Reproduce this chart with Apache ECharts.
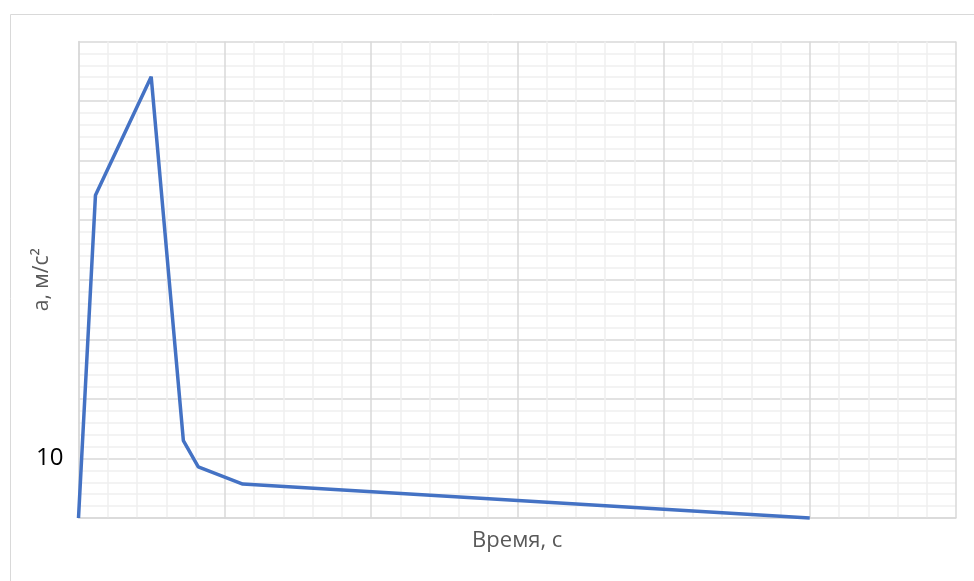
<!DOCTYPE html>
<html>
<head>
<meta charset="utf-8">
<script src="https://cdn.jsdelivr.net/npm/echarts@6/dist/echarts.min.js"></script>
<style>html,body{margin:0;padding:0;background:#fff}#c{width:974px;height:581px}</style>
</head>
<body>
<div id="c"></div>
<script>
const timeValues = [0, 0.116, 0.497, 0.717, 0.819, 1.123, 5.0];
const accelValues = [0, 54.2, 74.1, 13.0, 8.6, 5.7, 0];
const yTickLabels = {10: '10'};
const xTitle = 'Время, с';
const yTitle = 'а, м/с²';

const chart = echarts.init(document.getElementById('c'));
const pts = timeValues.map((t, i) => [t, accelValues[i]]);
const font = 'Open Sans, Liberation Sans, sans-serif';
chart.setOption({
  animation: false,
  graphic: [{
    type: 'rect', left: 8, top: 12, z: -1,
    shape: {width: 1000, height: 620},
    style: {fill: 'none', stroke: '#d9d9d9', lineWidth: 1}
  }],
  grid: {left: 78.5, top: 41.5, right: 18, bottom: 63, containLabel: false, outerBoundsMode: 'none'},
  xAxis: {
    type: 'value', min: 0, max: 6, interval: 1,
    name: xTitle, nameLocation: 'middle', nameGap: 12, nameMoveOverlap: false,
    nameTextStyle: {fontFamily: font, fontSize: 22, color: '#595959'},
    axisLine: {show: true, lineStyle: {color: '#d9d9d9', width: 1.5}},
    axisTick: {show: false},
    axisLabel: {show: false},
    splitLine: {show: true, lineStyle: {color: '#d9d9d9', width: 1.5}},
    minorTick: {show: false, splitNumber: 5},
    minorSplitLine: {show: true, lineStyle: {color: '#f0f0f0', width: 1.5}}
  },
  yAxis: {
    type: 'value', min: 0, max: 80, interval: 10,
    name: yTitle, nameLocation: 'middle', nameGap: 26, nameRotate: 90, nameMoveOverlap: false,
    nameTextStyle: {fontFamily: font, fontSize: 21, color: '#595959'},
    axisLine: {show: true, lineStyle: {color: '#d9d9d9', width: 1.5}},
    axisTick: {show: false},
    axisLabel: {
      show: true, margin: 15, fontFamily: font, fontSize: 24, color: '#000',
      formatter: v => yTickLabels[v] || ''
    },
    splitLine: {show: true, lineStyle: {color: '#d9d9d9', width: 1.5}},
    minorTick: {show: false, splitNumber: 5},
    minorSplitLine: {show: true, lineStyle: {color: '#f0f0f0', width: 1.5}}
  },
  series: [{
    type: 'line', data: pts, showSymbol: false, symbol: 'none',
    lineStyle: {color: '#4472c4', width: 3.5},
    clip: false
  }]
});
</script>
</body>
</html>
